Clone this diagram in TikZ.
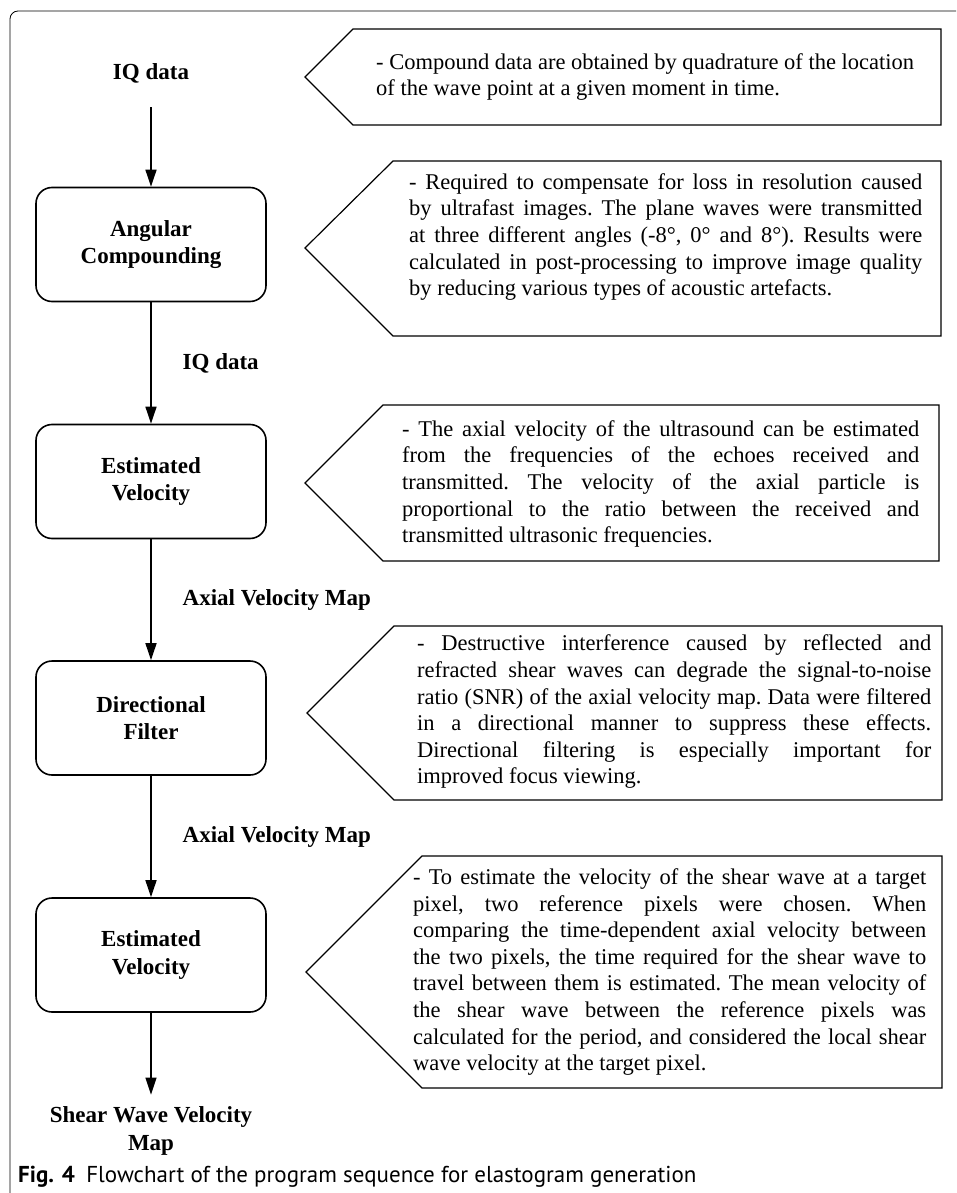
\documentclass[tikz,border=0pt]{standalone}
\usepackage{fontspec}
\setmainfont{Liberation Serif}
\newfontfamily\capfont{PT Sans}
\usepackage{tikz}
\usetikzlibrary{arrows.meta,positioning}

\newcommand{\notefont}{\fontsize{22.5}{26.6}\selectfont\frenchspacing\spaceskip=0.25em plus 0.5em minus 0.08em\relax}
\newcommand{\stagefont}{\fontsize{23}{27.5}\selectfont\bfseries}

\begin{document}
\begin{tikzpicture}[x=1pt,y=-1pt]
%\tikzstyle{stage} = [draw, rounded corners]
\tikzstyle{stage} = [draw, line width=1.6pt, rounded corners=16pt, minimum width=230pt, minimum height=114pt, align=center, font=\stagefont]
\tikzstyle{lbl} = [font=\stagefont, inner sep=0pt, align=center]
\tikzstyle{flow} = [line width=1.4pt, -{Triangle[length=17pt,width=11pt]}]
\tikzstyle{callout} = [draw, line width=1.2pt, line join=miter]
\tikzstyle{note} = [font=\notefont, inner sep=0pt, anchor=west, align=justify]

\useasboundingbox (0,0) rectangle (956,1193);
% panel frame
\draw[line width=0.8pt, rounded corners=8pt] (10,1193) -- (10,11) -- (956,11);

% processing chain
\node[lbl] (iq) at (151,73) {IQ data};
\node[stage] (ac) at (151,244.5) {Angular\\Compounding};
\node[stage] (ev1) at (151,481.5) {Estimated\\Velocity};
\node[stage] (df) at (151,718) {Directional\\Filter};
\node[stage] (ev2) at (151,955) {Estimated\\Velocity};
\node[lbl] (swv) at (151,1131) {Shear Wave Velocity\\Map};

\draw[flow, shorten <=24pt] (iq) -- (ac);
\draw[flow] (ac) -- node[lbl, right=31pt] (m1) {IQ data} (ev1);
\draw[flow] (ev1) -- node[lbl, right=31pt] (m2) {Axial Velocity Map} (df);
\draw[flow] (df) -- node[lbl, right=31pt] (m3) {Axial Velocity Map} (ev2);
\draw[flow, shorten >=12pt] (ev2) -- (swv);

% callouts
\draw[callout] (305,77) -- (353,29) -- (941,29) -- (941,125) -- (353,125) -- cycle;
\draw[callout] (305,248) -- (393,161) -- (941,161) -- (941,336) -- (393,336) -- cycle;
\draw[callout] (305,483) -- (383,405) -- (939,405) -- (939,561) -- (383,561) -- cycle;
\draw[callout] (307,713) -- (394,626) -- (942,626) -- (942,800) -- (394,800) -- cycle;
\draw[callout] (306,972) -- (422,856) -- (942,856) -- (942,1088) -- (422,1088) -- cycle;

\node[note, align=left] (t1) at (376,77) {- Compound data are obtained by quadrature of the location\\of the wave point at a given moment in time.};
\node[note, text width=513pt] (t2) at (409,237) {- Required to compensate for loss in resolution caused\linebreak
by ultrafast images. The plane waves were transmitted\linebreak
at three different angles (-8°, 0° and 8°). Results were\linebreak
calculated in post-processing to improve image quality\linebreak
by reducing various types of acoustic artefacts.};
\node[note, text width=517pt] (t3) at (402,484) {- The axial velocity of the ultrasound can be estimated\linebreak
from the frequencies of the echoes received and\linebreak
transmitted. The velocity of the axial particle is\linebreak
proportional to the ratio between the received and\linebreak
transmitted ultrasonic frequencies.};
\node[note, text width=514pt] (t4) at (417,712) {- Destructive interference caused by reflected and\linebreak
refracted shear waves can degrade the signal-to-noise\linebreak
ratio (SNR) of the axial velocity map. Data were filtered\linebreak
in a directional manner to suppress these effects.\linebreak
Directional filtering is especially important for\linebreak
improved focus viewing.};
\node[note, text width=513pt] (t5) at (413,972) {- To estimate the velocity of the shear wave at a target\linebreak
pixel, two reference pixels were chosen. When\linebreak
comparing the time-dependent axial velocity between\linebreak
the two pixels, the time required for the shear wave to\linebreak
travel between them is estimated. The mean velocity of\linebreak
the shear wave between the reference pixels was\linebreak
calculated for the period, and considered the local shear\linebreak
wave velocity at the target pixel.};

% caption
\node[anchor=west, inner sep=0pt, font=\capfont\fontsize{23}{27}\selectfont] (cap) at (18,1177) {\textbf{Fig. 4}\hspace{0.5em}Flowchart of the program sequence for elastogram generation};
\end{tikzpicture}
\end{document}
